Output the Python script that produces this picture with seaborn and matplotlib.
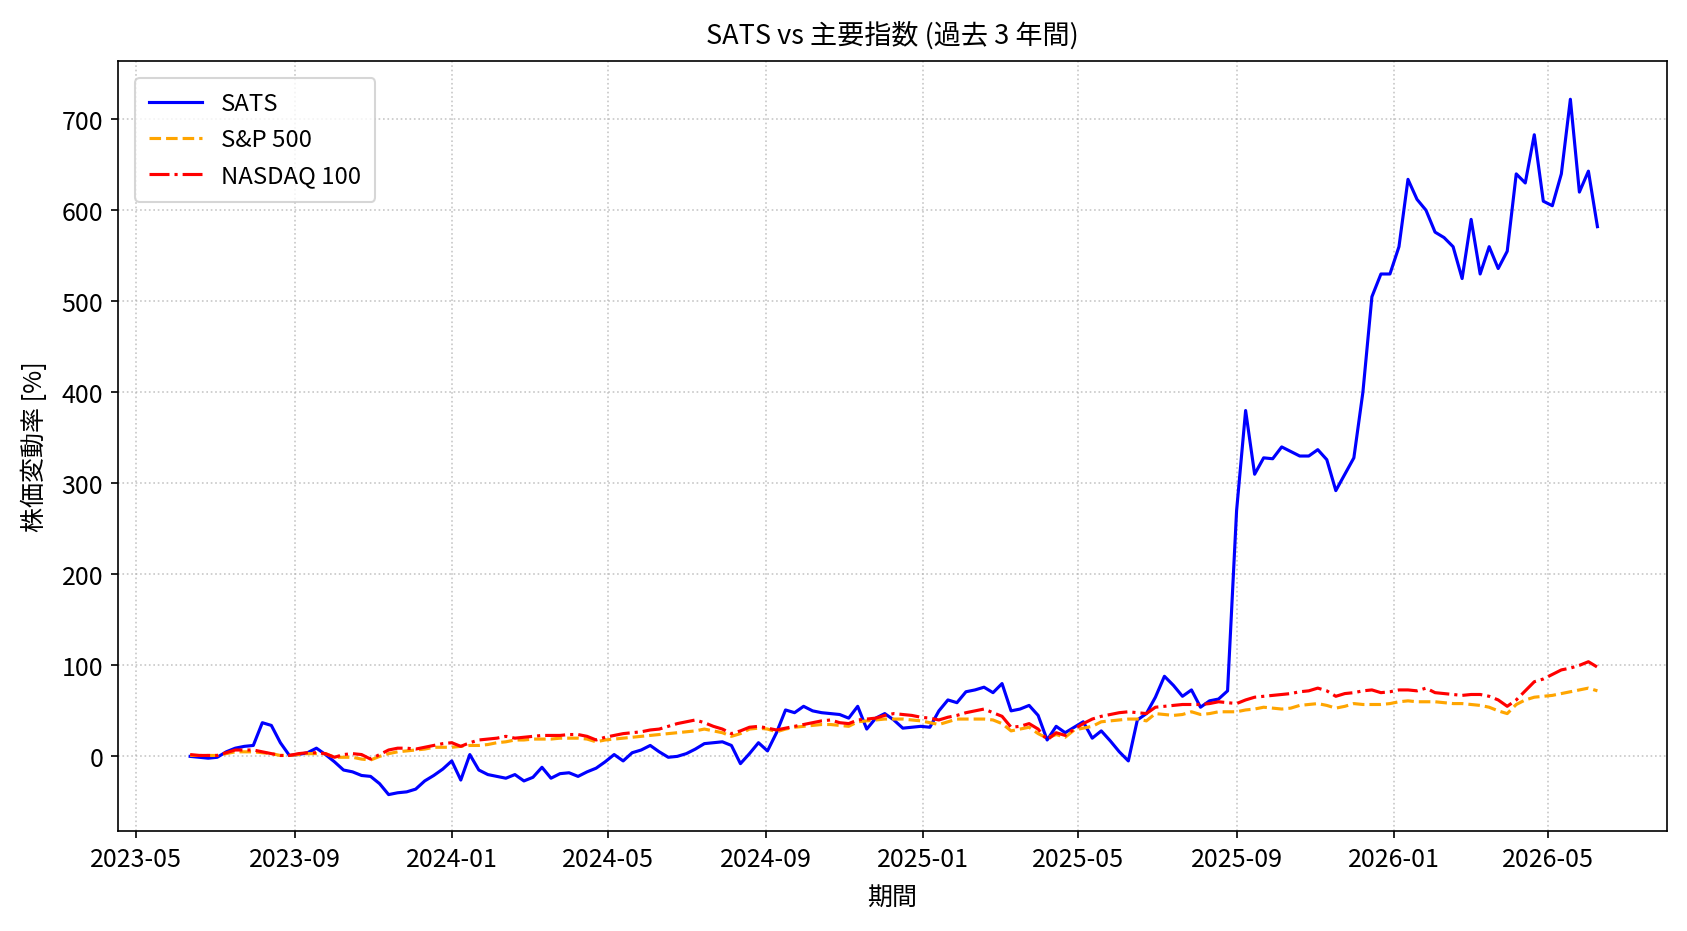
import matplotlib
matplotlib.use('Agg')
import matplotlib.pyplot as plt
import matplotlib.dates as mdates
import numpy as np
import pandas as pd
import seaborn as sns

plt.rcParams['font.family'] = ['Noto Sans CJK JP', 'DejaVu Sans']
plt.rcParams['axes.unicode_minus'] = False

# weekly closes, change vs first week [%]
dates = pd.date_range('2023-06-12', periods=157, freq='W-MON')

sats = [
    0, -1, -2, -1, 5, 9, 11, 12, 37, 34,
    15, 1, 2, 4, 9, 2, -6, -15, -17, -21,
    -22, -30, -42, -40, -39, -36, -27, -21, -14, -5,
    -26, 2, -15, -20, -22, -24, -20, -27, -23, -12,
    -24, -19, -18, -22, -17, -13, -6, 2, -5, 4,
    7, 12, 5, -1, 0, 3, 8, 14, 15, 16,
    12, -8, 3, 15, 6, 26, 51, 48, 55, 50,
    48, 47, 46, 42, 55, 30, 42, 47, 40, 31,
    32, 33, 32, 50, 62, 59, 71, 73, 76, 70,
    80, 50, 52, 56, 45, 18, 33, 26, 32, 38,
    20, 28, 17, 5, -5, 40, 47, 65, 88, 78,
    66, 73, 54, 61, 63, 72, 270, 380, 310, 328,
    327, 340, 335, 330, 330, 337, 326, 292, 310, 328,
    400, 505, 530, 530, 560, 634, 612, 600, 576, 570,
    560, 525, 590, 530, 560, 536, 555, 640, 630, 683,
    610, 605, 640, 722, 620, 643, 582,
]

sp500 = [
    1, 1, 1, 1, 3, 5, 5, 5, 4, 3,
    1, 1, 2, 3, 3, 3, -1, -1, -1, -3,
    -4, 0, 3, 5, 6, 7, 8, 10, 10, 10,
    11, 12, 12, 13, 15, 16, 18, 18, 19, 19,
    19, 20, 20, 20, 19, 16, 18, 19, 20, 21,
    22, 23, 24, 25, 26, 27, 28, 30, 28, 26,
    22, 25, 30, 31, 30, 27, 30, 32, 33, 34,
    35, 35, 34, 33, 38, 39, 40, 41, 41, 41,
    40, 39, 37, 35, 38, 41, 41, 41, 41, 40,
    36, 28, 30, 32, 25, 20, 24, 21, 29, 31,
    33, 38, 39, 40, 41, 41, 39, 47, 46, 45,
    46, 49, 46, 47, 49, 49, 49, 51, 52, 54,
    53, 52, 53, 56, 57, 58, 56, 53, 55, 58,
    57, 57, 57, 58, 60, 61, 60, 60, 60, 59,
    58, 58, 57, 56, 54, 50, 47, 57, 62, 65,
    66, 67, 69, 71, 73, 75, 72,
]

nasdaq100 = [
    2, 1, 1, 1, 4, 7, 7, 7, 5, 3,
    1, 1, 3, 4, 4, 3, -1, 2, 3, 2,
    -3, 2, 7, 9, 9, 8, 10, 12, 14, 15,
    11, 15, 18, 19, 20, 22, 20, 21, 22, 23,
    23, 23, 24, 24, 22, 18, 21, 23, 25, 26,
    27, 29, 30, 33, 36, 38, 40, 37, 33, 30,
    25, 28, 32, 33, 31, 29, 31, 33, 35, 37,
    39, 40, 37, 36, 40, 41, 42, 45, 47, 46,
    45, 43, 42, 40, 43, 45, 48, 50, 52, 48,
    44, 32, 33, 36, 30, 18, 26, 23, 30, 36,
    41, 44, 46, 48, 49, 48, 47, 54, 55, 56,
    57, 57, 57, 58, 60, 59, 58, 62, 65, 66,
    67, 68, 69, 71, 72, 75, 72, 66, 69, 70,
    72, 73, 70, 71, 73, 73, 72, 75, 70, 69,
    68, 67, 68, 68, 66, 62, 55, 62, 72, 82,
    85, 90, 95, 97, 100, 104, 98,
]

fig, ax = plt.subplots(figsize=(11.253, 6.213), dpi=150)
fig.subplots_adjust(left=0.0699, right=0.9876, top=0.9335, bottom=0.1073)

sns.lineplot(x=dates, y=sats, ax=ax, color='blue', linewidth=1.5, label='SATS')
sns.lineplot(x=dates, y=sp500, ax=ax, color='orange', linewidth=1.5,
             linestyle='--', label='S&P 500')
sns.lineplot(x=dates, y=nasdaq100, ax=ax, color='red', linewidth=1.5,
             linestyle='-.', label='NASDAQ 100')

ax.set_ylim(-82, 764)
ax.set_xlim(pd.Timestamp('2023-04-17'), pd.Timestamp('2026-08-01'))
ax.xaxis.set_major_locator(mdates.MonthLocator(bymonth=[1, 5, 9]))
ax.xaxis.set_major_formatter(mdates.DateFormatter('%Y-%m'))
ax.tick_params(labelsize=12)

ax.set_title('SATS vs 主要指数 (過去 3 年間)', fontsize=13, pad=9)
ax.set_xlabel('期間', fontsize=12, labelpad=6)
ax.set_ylabel('株価変動率 [%]', fontsize=12, labelpad=6.5)
ax.grid(True, linestyle=':', alpha=0.7)
ax.legend(loc='upper left', fontsize=11.5, handlelength=2.2, labelspacing=0.55,
          borderpad=0.6, borderaxespad=0.7)

fig.savefig('out.png', dpi=150)
